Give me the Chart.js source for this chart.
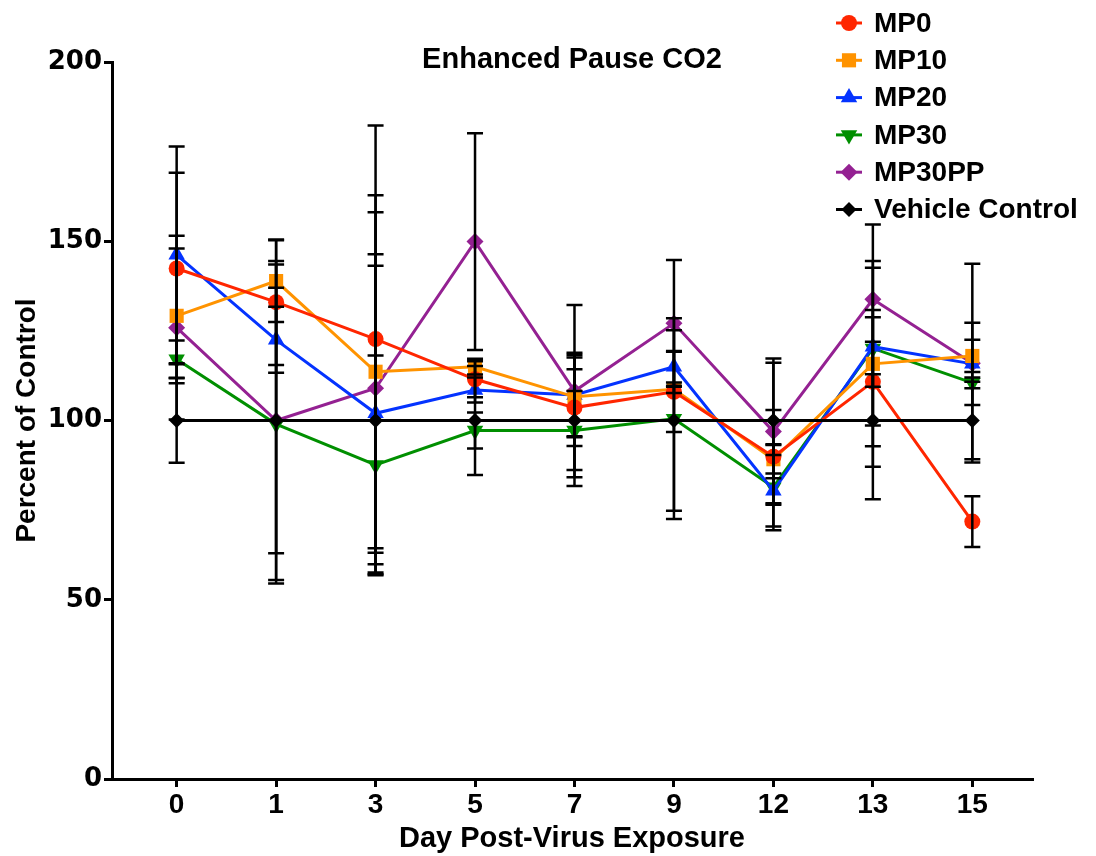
<!DOCTYPE html>
<html>
<head>
<meta charset="utf-8">
<script src="https://cdn.jsdelivr.net/npm/chart.js@4.4.1/dist/chart.umd.min.js"></script>
<style>
    html, body { margin: 0; padding: 0; background: #fff; }
    #wrap { position: relative; width: 1096px; height: 856px; }
    #title {
        position: absolute; left: 0; width: 1144px; top: 42px;
        text-align: center; color: #000;
        font: bold 29px "Liberation Sans", Arial, sans-serif;
    }
</style>
</head>
<body>
<div id="wrap">
    <canvas id="chart" width="1096" height="856"></canvas>
    <div id="title">Enhanced Pause CO2</div>
</div>
<script>
// days after virus exposure (category labels)
const days = ['0', '1', '3', '5', '7', '9', '12', '13', '15'];
const yTicks = [0, 50, 100, 150, 200];

// mean percent of control, one value per day
const mp0    = [142.4, 133.0, 122.7, 111.5, 103.6, 108.0, 89.9, 110.8, 71.8];
const mp10   = [129.2, 138.9, 113.6, 115.0, 106.6, 108.7, 89.2, 115.8, 118.0];
const mp20   = [146.2, 122.5, 102.0, 108.5, 107.1, 115.0, 80.4, 120.6, 115.8];
const mp30   = [117.1, 99.0, 87.6, 97.2, 97.2, 100.5, 81.4, 120.1, 110.5];
const mp30pp = [125.9, 100.0, 109.0, 149.9, 108.2, 127.1, 96.9, 133.8, 116.0];
const vehicle = [100, 100, 100, 100, 100, 100, 100, 100, 100];

// error (+/-) for each point
const mp0Err    = [26.7, 17.5, 59.6, 5.0, 10.7, 11.2, 13.0, 18.0, 7.1];
const mp10Err   = [18.8, 11.4, 49.2, 2.2, 11.0, 1.0, 4.0, 28.7, 4.5];
const mp20Err   = [30.2, 9.2, 44.4, 3.5, 11.8, 4.4, 10.0, 22.0, 11.5];
const mp30Err   = [5.2, 44.5, 30.5, 5.0, 11.0, 28.0, 12.0, 10.7, 1.5];
const mp30ppErr = [25.6, 44.5, 49.1, 30.2, 24.0, 17.7, 20.4, 20.9, 27.7];
const vehicleErr = [11.8, 37.0, 43.2, 15.2, 18.3, 25.2, 16.1, 22.0, 10.8];

const boldFont = '"Liberation Sans", Arial, sans-serif';

function points(values) {
    return values.map((v, i) => ({x: i, y: v}));
}

function series(label, values, errors, color, style, radius, rotation, order) {
    return {
        label: label,
        data: points(values),
        errors: errors,
        borderColor: color,
        backgroundColor: color,
        pointBackgroundColor: color,
        pointBorderColor: color,
        pointBorderWidth: 0,
        pointStyle: style,
        pointRadius: radius,
        pointHoverRadius: radius,
        pointRotation: rotation,
        borderWidth: 3,
        tension: 0,
        fill: false,
        order: order
    };
}

const datasets = [
    series('MP0', mp0, mp0Err, '#FF2600', 'circle', 8, 0, 1),
    series('MP10', mp10, mp10Err, '#FF9300', 'rect', 10, 0, 2),
    series('MP20', mp20, mp20Err, '#0433FF', 'triangle', 9.5, 0, 3),
    series('MP30', mp30, mp30Err, '#008F00', 'triangle', 9.5, 180, 4),
    series('MP30PP', mp30pp, mp30ppErr, '#942192', 'rectRot', 8.5, 0, 5),
    series('Vehicle Control', vehicle, vehicleErr, '#000000', 'rectRot', 7.5, 0, 0)
];

// black error bars with caps, drawn over the lines
const errorBars = {
    id: 'errorBars',
    afterDatasetsDraw(chart) {
        const ctx = chart.ctx, xs = chart.scales.x, ys = chart.scales.y;
        ctx.save();
        ctx.strokeStyle = '#000';
        ctx.lineWidth = 2.5;
        chart.data.datasets.forEach(ds => {
            ds.data.forEach((p, i) => {
                const e = ds.errors[i];
                const px = xs.getPixelForValue(p.x);
                const top = ys.getPixelForValue(p.y + e);
                const bot = ys.getPixelForValue(p.y - e);
                ctx.beginPath();
                ctx.moveTo(px, top); ctx.lineTo(px, bot);
                ctx.moveTo(px - 8, top); ctx.lineTo(px + 8, top);
                ctx.moveTo(px - 8, bot); ctx.lineTo(px + 8, bot);
                ctx.stroke();
            });
        });
        ctx.restore();
    }
};

// legend in the top right corner, line + marker + label
const cornerLegend = {
    id: 'cornerLegend',
    afterDraw(chart) {
        const ctx = chart.ctx;
        ctx.save();
        chart.data.datasets.forEach((ds, i) => {
            const cy = 23 + i * 37.3;
            ctx.strokeStyle = ds.borderColor;
            ctx.lineWidth = 3;
            ctx.beginPath();
            ctx.moveTo(836, cy);
            ctx.lineTo(862, cy);
            ctx.stroke();
            ctx.fillStyle = ds.pointBackgroundColor;
            ctx.strokeStyle = ds.pointBorderColor;
            Chart.helpers.drawPoint(ctx, {
                pointStyle: ds.pointStyle,
                radius: ds.pointRadius,
                rotation: ds.pointRotation,
                borderWidth: 0
            }, 849, cy);
            ctx.fillStyle = '#000';
            ctx.font = 'bold 28px ' + boldFont;
            ctx.textBaseline = 'middle';
            ctx.textAlign = 'left';
            ctx.fillText(ds.label, 874, cy + 1);
        });
        ctx.restore();
    }
};

const ctx = document.getElementById('chart');

new Chart(ctx, {
    type: 'line',
    data: {
        datasets: datasets
    },
    plugins: [errorBars, cornerLegend],
    options: {
        responsive: false,
        animation: false,
        events: [],
        layout: {
            padding: {top: 62, right: 64, bottom: 0, left: 0}
        },
        plugins: {
            legend: {display: false},
            tooltip: {enabled: false},
            title: {display: false}
        },
        scales: {
            x: {
                type: 'linear',
                min: -0.65,
                max: 8.6,
                afterFit(scale) { scale.height = 77; },
                afterBuildTicks(scale) {
                    scale.ticks = days.map((d, i) => ({value: i}));
                },
                ticks: {
                    autoSkip: false,
                    maxRotation: 0,
                    padding: 1,
                    color: '#000',
                    font: {family: boldFont, size: 28, weight: 'bold'},
                    callback: v => days[v]
                },
                grid: {
                    drawOnChartArea: false,
                    drawTicks: true,
                    tickLength: 8,
                    color: '#000',
                    lineWidth: 3
                },
                border: {color: '#000', width: 3},
                title: {
                    display: true,
                    text: 'Day Post-Virus Exposure',
                    color: '#000',
                    font: {family: boldFont, size: 29, weight: 'bold'},
                    padding: {top: 0, bottom: 0}
                }
            },
            y: {
                min: 0,
                max: 200,
                afterFit(scale) { scale.width = 112; },
                afterBuildTicks(scale) {
                    scale.ticks = yTicks.map(v => ({value: v}));
                },
                ticks: {
                    padding: 2,
                    color: '#000',
                    font: {family: '"DejaVu Sans", sans-serif', size: 26, weight: 'bold'}
                },
                grid: {
                    drawOnChartArea: false,
                    drawTicks: true,
                    tickLength: 8,
                    color: '#000',
                    lineWidth: 3
                },
                border: {color: '#000', width: 3},
                title: {
                    display: true,
                    text: 'Percent of Control',
                    color: '#000',
                    font: {family: boldFont, size: 28, weight: 'bold'},
                    padding: {top: 10, bottom: 0}
                }
            }
        }
    }
});
</script>
</body>
</html>
